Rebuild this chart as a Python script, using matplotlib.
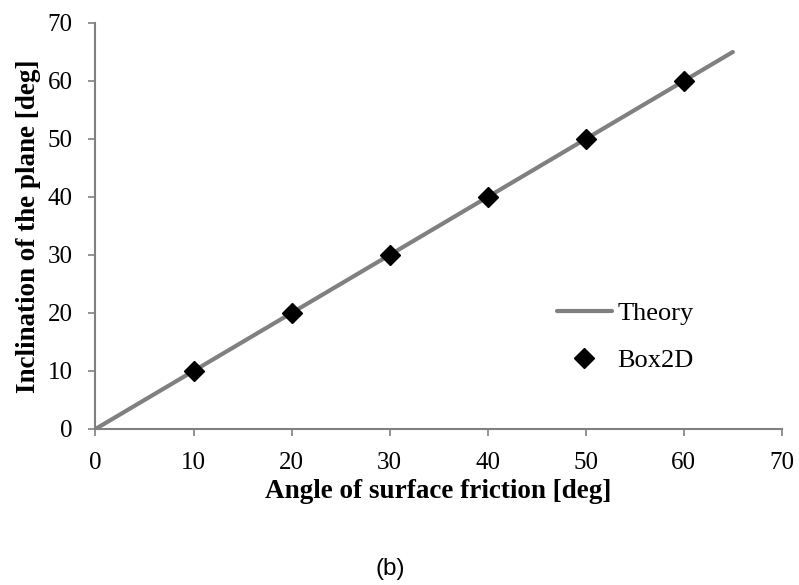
import numpy as np
import matplotlib
matplotlib.use("Agg")
import matplotlib.pyplot as plt

# theoretical line: inclination equals friction angle
theory_x = [0, 65]
theory_y = [0, 65]

# Box2D simulation results
box2d_x = [10, 20, 30, 40, 50, 60]
box2d_y = [10, 20, 30, 40, 50, 60]

xticks = [0, 10, 20, 30, 40, 50, 60, 70]
yticks = [0, 10, 20, 30, 40, 50, 60, 70]

plt.rcParams['font.family'] = ['Liberation Serif', 'DejaVu Serif']

fig = plt.figure(figsize=(7.99, 5.85), dpi=100)
ax = fig.add_axes([0.1195, 0.2667, 0.859, 0.694])

ax.plot(theory_x, theory_y, color='#808080', lw=3.0, solid_capstyle='round', label='Theory', zorder=2)
ax.plot(box2d_x, box2d_y, ls='none', marker='D', ms=10.5, color='black', label='Box2D', zorder=3)

ax.set_xlim(0, 70)
ax.set_ylim(0, 70)
ax.set_xticks(xticks)
ax.set_yticks(yticks)

for s in ['top', 'right']:
    ax.spines[s].set_visible(False)
for s in ['left', 'bottom']:
    ax.spines[s].set_color('#808080')
    ax.spines[s].set_linewidth(1.5)
ax.tick_params(direction='out', length=5, width=1.2, color='#808080', labelsize=18, pad=11.5)

ax.set_xlabel('Angle of surface friction [deg]', fontsize=19.5, fontweight='bold', labelpad=4)
ax.set_ylabel('Inclination of the plane [deg]', fontsize=19.5, fontweight='bold', labelpad=5)

leg = ax.legend(loc='center left', bbox_to_anchor=(0.672, 0.2275), frameon=False, fontsize=19,
                borderaxespad=0, borderpad=0,
                handlelength=2.1, handletextpad=0.2, labelspacing=0.9)

fig.text(0.488, 0.027, '(b)', fontsize=17.5, family=['Liberation Sans', 'DejaVu Sans'], ha='center', va='center')

fig.savefig('out.png', dpi=100)
